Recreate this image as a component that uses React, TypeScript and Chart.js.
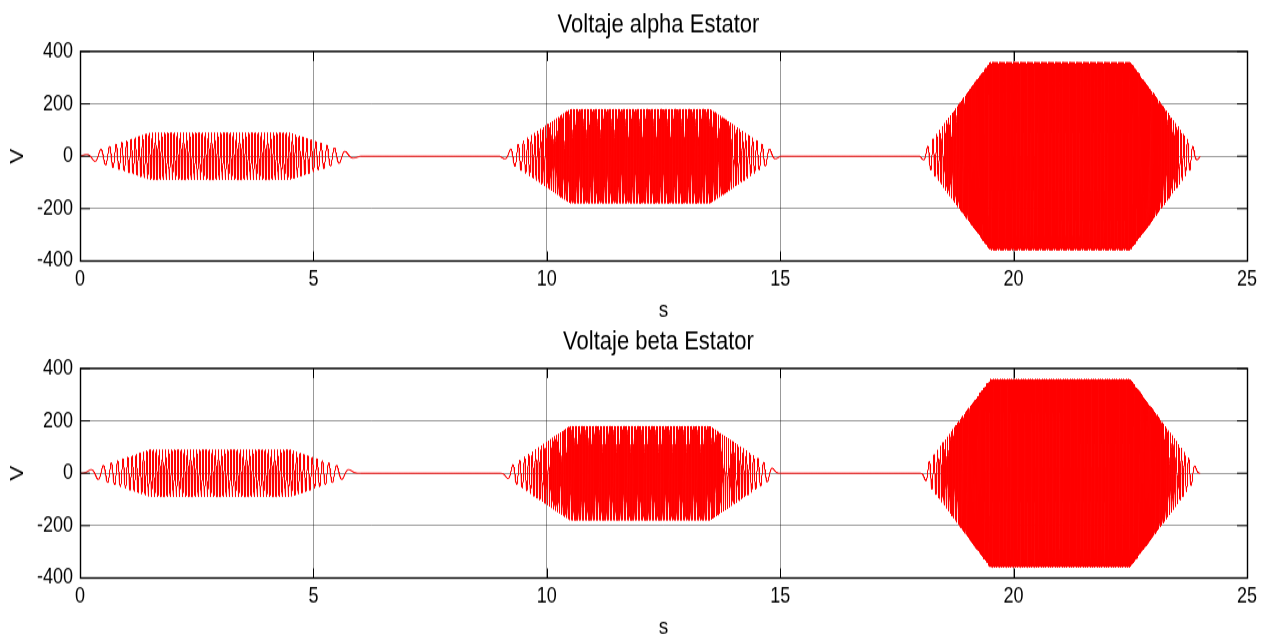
import React, { useEffect, useRef } from "react";
import { Chart, registerables } from "chart.js";

Chart.register(...registerables);

// ---- data ----
// envelope breakpoints of the stator voltage amplitude (time in s, amplitude in V)
const ENVELOPE_TIMES = [0, 1.5, 4.5, 6, 9, 10.5, 13.5, 15, 18, 19.5, 22.5, 24];
const ENVELOPE_AMPLITUDES = [0, 90, 90, 0, 0, 180, 180, 0, 0, 360, 360, 0];
// constant volts-per-hertz ratio (90 V at ~15 Hz)
const VOLTS_PER_HZ = 6;
const SAMPLE_STEP = 0.001; // s
const X_TICKS = [0, 5, 10, 15, 20, 25];
const Y_TICKS = [-400, -200, 0, 200, 400];
const TITLES = ["Voltaje alpha Estator", "Voltaje beta Estator"];
const X_LABEL = "s";
const Y_LABEL = "V";

// ---- layout (unstretched canvas units) ----
const STRETCH = 1.2;
const CANVAS_W = 1272;
const CANVAS_H = 270;
const PANEL_TOPS = [0, 317];
const AREA_TOP = 42.9;
const AREA_BOTTOM = 217.5;
const AREA_LEFT = 80;
const AREA_RIGHT_PAD = 25;
const TITLE_Y = 20.6;
const FONT = '"Liberation Sans", Arial, Helvetica, sans-serif';

function envelopeAt(t: number): number {
  for (let i = 0; i < ENVELOPE_TIMES.length - 1; i++) {
    const t0 = ENVELOPE_TIMES[i];
    const t1 = ENVELOPE_TIMES[i + 1];
    if (t >= t0 && t <= t1) {
      const a0 = ENVELOPE_AMPLITUDES[i];
      const a1 = ENVELOPE_AMPLITUDES[i + 1];
      return a0 + ((a1 - a0) * (t - t0)) / (t1 - t0);
    }
  }
  return 0;
}

function buildSeries() {
  const alpha: { x: number; y: number }[] = [];
  const beta: { x: number; y: number }[] = [];
  const tEnd = ENVELOPE_TIMES[ENVELOPE_TIMES.length - 1];
  const n = Math.round(tEnd / SAMPLE_STEP);
  let phase = 0;
  for (let i = 0; i <= n; i++) {
    const t = i * SAMPLE_STEP;
    const a = envelopeAt(t);
    alpha.push({ x: t, y: a * Math.cos(phase) });
    beta.push({ x: t, y: a * Math.sin(phase) });
    phase += 2 * Math.PI * (a / VOLTS_PER_HZ) * SAMPLE_STEP;
  }
  return [alpha, beta];
}

const SERIES = buildSeries();

const framePlugin = {
  id: "matlabFrame",
  afterDatasetsDraw(chart: any, _args: any, opts: any) {
    const { ctx, chartArea } = chart;
    const { left, right, top, bottom } = chartArea;
    const xs = chart.scales.x;
    const ys = chart.scales.y;
    ctx.save();
    ctx.strokeStyle = "#000";
    ctx.lineWidth = 1;
    ctx.beginPath();
    const tlx = 10;
    const tly = 8;
    X_TICKS.forEach((v) => {
      const px = Math.round(xs.getPixelForValue(v)) + 0.5;
      ctx.moveTo(px, top);
      ctx.lineTo(px, top + tly);
      ctx.moveTo(px, bottom);
      ctx.lineTo(px, bottom - tly);
    });
    Y_TICKS.forEach((v) => {
      const py = ys.getPixelForValue(v);
      ctx.moveTo(left, py);
      ctx.lineTo(left + tlx, py);
      ctx.moveTo(right, py);
      ctx.lineTo(right - tlx, py);
    });
    ctx.stroke();
    ctx.lineWidth = 1.4;
    ctx.strokeRect(left + 0.5, top, right - left, bottom - top);
    ctx.fillStyle = "#000";
    ctx.font = `22px ${FONT}`;
    ctx.textAlign = "center";
    ctx.textBaseline = "middle";
    ctx.fillText(opts.text, (left + right) / 2 - 5, TITLE_Y);
    ctx.restore();
  },
};

function VoltagePanel({ index }: { index: number }) {
  const ref = useRef<HTMLCanvasElement | null>(null);
  useEffect(() => {
    if (!ref.current) return;
    const chart = new Chart(ref.current, {
      type: "line",
      data: {
        datasets: [
          {
            data: SERIES[index],
            borderColor: "#ff0000",
            borderWidth: 1,
            pointRadius: 0,
            tension: 0,
            fill: false,
          },
        ],
      },
      options: {
        animation: false,
        responsive: false,
        devicePixelRatio: 1,
        parsing: false,
        normalized: true,
        events: [],
        layout: { padding: { left: 0, right: AREA_RIGHT_PAD, top: AREA_TOP, bottom: 0 } },
        plugins: {
          legend: { display: false },
          tooltip: { enabled: false },
          title: { display: false },
          matlabFrame: { text: TITLES[index] },
        } as any,
        scales: {
          x: {
            type: "linear",
            min: 0,
            max: 25,
            afterBuildTicks: (s: any) => {
              s.ticks = X_TICKS.map((v) => ({ value: v }));
            },
            afterFit: (s: any) => {
              s.height = CANVAS_H - AREA_BOTTOM;
            },
            ticks: {
              color: "#000",
              padding: 5,
              maxRotation: 0,
              autoSkip: false,
              font: { family: FONT, size: 18 },
            },
            grid: { color: "rgba(0,0,0,0.4)", lineWidth: 1, drawTicks: false },
            border: { display: false },
            title: {
              display: true,
              text: X_LABEL,
              color: "#000",
              font: { family: FONT, size: 19 },
              padding: { top: 0, bottom: 0 },
            },
          },
          y: {
            type: "linear",
            min: -400,
            max: 400,
            afterBuildTicks: (s: any) => {
              s.ticks = Y_TICKS.map((v) => ({ value: v }));
            },
            afterFit: (s: any) => {
              s.width = AREA_LEFT;
            },
            ticks: {
              color: "#000",
              padding: 7,
              autoSkip: false,
              font: { family: FONT, size: 18 },
            },
            grid: { color: "rgba(0,0,0,0.4)", lineWidth: 1, drawTicks: false },
            border: { display: false },
            title: {
              display: true,
              text: Y_LABEL,
              color: "#000",
              font: { family: FONT, size: 19 },
              padding: { top: 6.5, bottom: 0 },
            },
          },
        },
      },
      plugins: [framePlugin as any],
    });
    return () => chart.destroy();
  }, [index]);
  return (
    <canvas
      ref={ref}
      width={CANVAS_W}
      height={CANVAS_H}
      style={{
        position: "absolute",
        left: 0,
        top: PANEL_TOPS[index],
        width: CANVAS_W,
        height: CANVAS_H,
        transform: `scaleY(${STRETCH})`,
        transformOrigin: "0 0",
        display: "block",
      }}
    />
  );
}

export default function App() {
  return (
    <div
      style={{
        position: "fixed",
        left: 0,
        top: 0,
        width: 1272,
        height: 636,
        overflow: "hidden",
        background: "#fff",
      }}
    >
      <VoltagePanel index={0} />
      <VoltagePanel index={1} />
    </div>
  );
}
